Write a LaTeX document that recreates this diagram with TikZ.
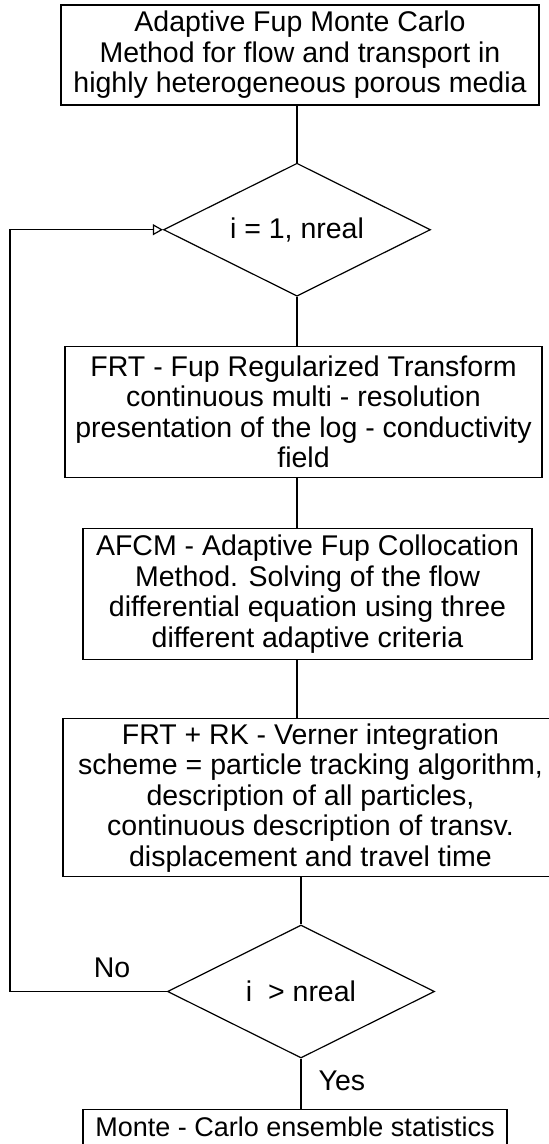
\documentclass[tikz,border=0pt]{standalone}
\usepackage{fontspec}
\setmainfont{Liberation Sans}
\usetikzlibrary{positioning,shapes.geometric,arrows.meta}

\begin{document}
\begin{tikzpicture}[x=1pt, y=-1pt, font=\fontsize{28.5}{30.5}\selectfont,
    line width=1.2pt]
    \tikzstyle{block} = [rectangle, draw, align=center, inner sep=2pt]
    \tikzstyle{decision} = [diamond, draw, aspect=2, inner sep=2pt,
        minimum width=267pt, minimum height=133pt]
    \tikzstyle{line} = [draw]
    \tikzstyle{back} = [draw, -{Triangle[open, length=10pt, width=11pt]}]

    \useasboundingbox (0,0) rectangle (549,1144);

    % Start
    \node[block, minimum width=478pt, minimum height=100pt] (title) at (300,55)
        {Adaptive Fup Monte Carlo\\ Method for flow and transport in\\
        highly heterogeneous porous media};
    % Loop over realizations
    \node[decision, below=57pt of title, xshift=-3pt] (loop) {i = 1, nreal};
    \node[block, below=49pt of loop, xshift=6.5pt, minimum width=477pt,
        minimum height=131pt] (frt) {FRT - Fup Regularized Transform\\
        continuous multi - resolution\\ presentation of the log - conductivity\\
        field};
    \node[block, below=50pt of frt, xshift=4pt, minimum width=449pt,
        minimum height=131pt] (afcm) {AFCM - Adaptive Fup Collocation\\
        Method. Solving of the flow\\ differential equation using three\\
        different adaptive criteria};
    \node[block, below=58pt of afcm, xshift=3pt, minimum width=495pt,
        minimum height=158pt] (track) {FRT + RK - Verner integration\\
        scheme = particle tracking algorithm,\\ description of all particles,\\
        continuous description of transv.\\ displacement and travel time};
    % End of loop
    \node[decision, below=47pt of track, xshift=-9.5pt] (check) {i\ \ > nreal};
    \node[block, below=50pt of check, xshift=-6pt, minimum width=424pt,
        minimum height=46pt, text depth=10pt, font=\fontsize{27}{30}\selectfont]
        (stats) {Monte - Carlo ensemble statistics};

    \coordinate (left) at (10,0);
    \draw[line] (title.south -| loop.north) -- (loop.north);
    \draw[line] (loop.south) -- (loop.south |- frt.north);
    \draw[line] (frt.south -| loop.south) -- (afcm.north -| loop.south);
    \draw[line] (afcm.south -| loop.south) -- (track.north -| loop.south);
    \draw[line] (track.south -| check.north) -- (check.north);
    \draw[line] (check.south) -- node[right=17pt, pos=0.44, inner sep=0pt] {Yes}
        (check.south |- stats.north);
    \draw[back] (check.west) -- node[above=13pt, pos=0.35, inner sep=0pt] {No}
        (check.west -| left) |- (loop.west);
\end{tikzpicture}
\end{document}
